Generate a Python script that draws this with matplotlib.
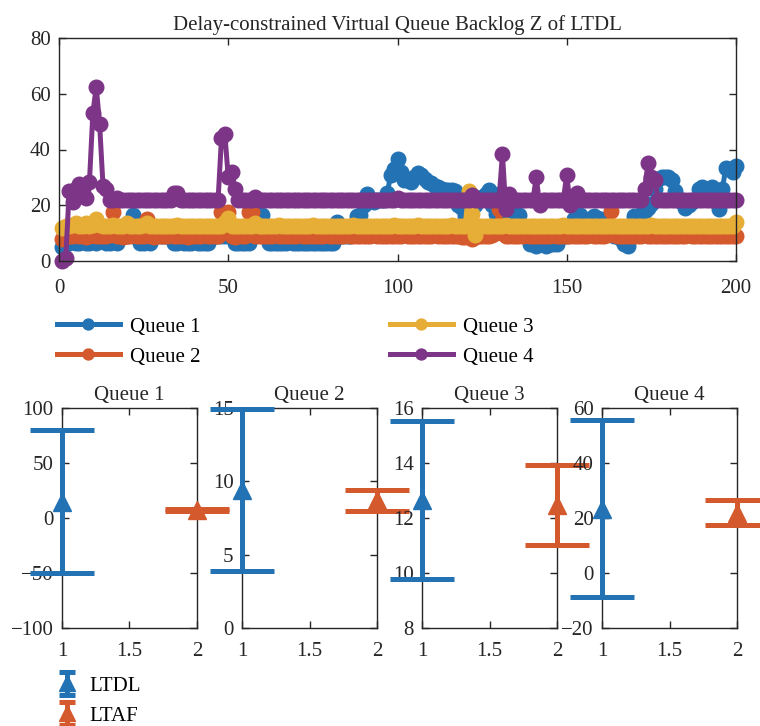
import numpy as np
import matplotlib
matplotlib.use("Agg")
import matplotlib.pyplot as plt
from matplotlib.lines import Line2D
from matplotlib.legend_handler import HandlerErrorbar

plt.rcParams['font.family'] = ['Liberation Serif', 'DejaVu Serif']
plt.rcParams['axes.unicode_minus'] = True

# ---------------- data ----------------
steps = list(range(1, 201))

queue1 = [5, 6, 6.5, 7, 6.5, 6.5, 7, 6.5, 6.5, 7, 6.5, 9, 9, 6.5, 6.5, 7, 6.5, 9, 9, 9,
          12, 16.5, 9, 6.5, 6.5, 7, 6.5, 9, 9, 9, 9, 9, 9, 6.5, 6.5, 7, 6.5, 6.5, 6.5, 7,
          6.5, 6.5, 6.5, 6.5, 9, 9, 9, 9, 9, 12, 9, 6.5, 6.5, 6.5, 6.5, 6.5, 9, 12, 16, 16.5,
          9, 6.5, 6.5, 6.5, 6.5, 6.5, 6.5, 9, 6.5, 6.5, 6.5, 6.5, 6.5, 6.5, 6.5, 6.5, 6.5, 6.5, 6.5, 6.5,
          6.5, 14, 9, 9, 9, 9, 12, 16, 16.5, 20, 24, 22, 21, 22, 22, 22, 24.5, 31, 33, 36.5,
          32, 29, 29, 28.5, 30, 31.5, 31, 29.5, 28.5, 28, 27, 26.5, 26, 25.5, 25.5, 25.5, 25, 20, 19, 16,
          18, 21, 20, 22, 23, 24, 25.5, 20, 17, 24, 21, 19, 17, 17, 16.5, 16.5, 12, 9, 6, 6,
          5.5, 6, 6, 5.5, 6, 6, 6, 9, 9, 9, 12, 15, 16.5, 16.5, 15, 14, 15, 16, 15.5, 15,
          14, 12, 12, 9, 9, 8, 6, 5.5, 9, 16, 16, 17, 18, 19, 20.5, 26, 29.5, 30, 30, 30,
          29, 25, 22, 21, 19, 20, 21, 22, 26, 26.5, 26, 26, 26.5, 22, 18.5, 26, 33.5, 33, 32, 34]

queue2 = [8, 8.5, 9, 9, 9.5, 9, 9, 8.5, 9, 9.5, 9, 9, 9, 9, 9.5, 17.5, 9, 9, 8.5, 9,
          9, 9.5, 9, 9, 9, 15, 9, 8.5, 9, 9, 9, 9, 9.5, 9, 9, 9, 9, 8.5, 9, 9,
          9, 9, 9.5, 9, 9, 9, 9, 17.5, 12, 17.5, 9, 8.5, 9, 9, 9, 17.5, 17.5, 9, 9, 9,
          9, 9, 9, 9.5, 9, 9, 9, 9, 9, 9, 9.5, 9, 9, 9, 9, 9, 9, 9, 9.5, 9,
          9, 9, 9, 9, 9.5, 9, 9, 9, 9, 9, 9, 9, 9.5, 9, 9, 9, 9, 9, 9, 9,
          9, 9.5, 9, 9, 9, 9, 9, 9, 9, 9, 9.5, 9, 9, 9, 9, 9, 9, 9, 8.5, 8.5,
          8.5, 8, 8.5, 9, 9, 9, 9, 9.5, 10, 18.5, 10, 9, 9, 9, 9, 9, 9, 9.5, 9, 9,
          9, 9, 9, 9, 9, 9.5, 9, 9, 9, 9, 9, 9, 9, 9, 9, 9, 9.5, 9, 9, 9,
          9, 9.5, 18, 9.5, 9, 9, 9, 9, 9, 9, 9, 9, 9.5, 9, 9, 9, 9, 9, 9, 9,
          9, 9, 9, 9, 9, 9.5, 9, 9, 9, 9, 9, 9, 9, 9, 9, 9, 9, 9, 9, 9]

queue3 = [12, 12.5, 12.5, 13, 13.5, 12.5, 12.5, 13.5, 12.5, 13, 15, 13, 12.5, 12.5, 12.5, 13, 12.5, 12.5, 12.5, 13.5,
          12.5, 12.5, 12.5, 12.5, 13, 13.5, 12.5, 12.5, 12.5, 12.5, 12.5, 12.5, 12.5, 12.5, 13, 12.5, 12.5, 12.5, 12.5, 12.5,
          12.5, 12.5, 12.5, 12.5, 12.5, 12.5, 12.5, 12.5, 14, 15.5, 12.5, 12.5, 12.5, 12.5, 12.5, 12.5, 12.5, 13.5, 12.5, 12.5,
          12.5, 12.5, 12.5, 12.5, 13, 12.5, 12.5, 12.5, 12.5, 12.5, 12.5, 12.5, 12.5, 12.5, 13, 12.5, 12.5, 12.5, 12.5, 12.5,
          12.5, 12.5, 12.5, 12.5, 12.5, 12.5, 13, 12.5, 12.5, 12.5, 12.5, 12.5, 12.5, 12.5, 12.5, 12.5, 12.5, 12.5, 13, 12.5,
          12.5, 12.5, 12.5, 12.5, 12.5, 13, 12.5, 12.5, 12.5, 12.5, 12.5, 12.5, 12.5, 12.5, 12.5, 13, 12.5, 12.5, 12.5, 12.5,
          25, 17, 9.5, 12.5, 12.5, 12.5, 12.5, 12.5, 12.5, 12.5, 12.5, 13, 12.5, 12.5, 12.5, 12.5, 12.5, 12.5, 12.5, 12.5,
          12.5, 12.5, 12.5, 12.5, 12.5, 12.5, 12.5, 12.5, 13, 12.5, 12.5, 12.5, 12.5, 12.5, 12.5, 12.5, 12.5, 12.5, 12.5, 12.5,
          12.5, 12.5, 12.5, 12.5, 12.5, 12.5, 12.5, 12.5, 12.5, 12.5, 12.5, 12.5, 12.5, 12.5, 13, 12.5, 12.5, 12.5, 12.5, 12.5,
          12.5, 12.5, 12.5, 12.5, 12.5, 12.5, 12.5, 12.5, 12.5, 12.5, 12.5, 12.5, 12.5, 12.5, 12.5, 12.5, 12.5, 12.5, 12.5, 14]

queue4 = [0, 1, 25, 21, 26, 27.5, 26, 22.5, 28.5, 53, 62.5, 49, 27, 26, 22, 22, 22.5, 22, 22, 22,
          22, 22, 22, 22, 22, 22, 22, 22, 22, 22, 22, 22, 22, 24.5, 24.5, 22, 22, 22, 22, 22,
          22, 22, 22, 22, 22, 22, 22, 44, 45.5, 30, 32, 26, 22, 22, 22, 22, 22, 23, 22, 22,
          22, 22, 22, 22, 22, 22, 22, 22, 22, 22, 22, 22, 22, 22, 22, 22, 22, 22, 22, 22,
          22, 22, 22, 22, 22, 22, 22, 22, 22, 22, 22, 22, 22, 22, 22, 22, 22, 22, 22, 22.5,
          22, 22, 22, 22, 22, 22, 22, 22, 22, 22, 22, 22, 22, 22, 22, 22, 22, 22, 22, 22,
          22, 23.5, 22, 22, 22, 22, 22, 22, 22, 22, 38.5, 18.5, 24, 22, 22, 22, 22, 22, 22, 22,
          30, 20, 22, 22, 22, 22, 22, 22, 22, 31, 20, 22, 24.5, 22, 22, 22, 22, 22, 22, 22,
          22, 22, 22, 22, 22, 22, 22, 22, 22, 22, 22, 22, 26, 35, 30, 29, 22, 22, 22, 22,
          22, 22, 22, 22, 22, 22, 22, 22, 22, 22, 22, 22, 22, 22, 22, 22, 22, 22, 22, 22]

series_labels = ["Queue 1", "Queue 2", "Queue 3", "Queue 4"]

# error-bar summary per queue
methods = ["LTDL", "LTAF"]
method_x = [1, 2]
ltdl_mean = [15, 9.4, 12.65, 23.4]
ltdl_err = [65, 5.5, 2.87, 32.2]
ltaf_mean = [7.5, 8.7, 12.48, 22]
ltaf_err = [0.8, 0.7, 1.45, 4.5]
sub_ylims = [(-100, 100), (0, 15), (8, 16), (-20, 60)]
sub_yticks = [[-100, -50, 0, 50, 100], [0, 5, 10, 15], [8, 10, 12, 14, 16], [-20, 0, 20, 40, 60]]

colors = ['#2372B4', '#D4592C', '#E6AD37', '#7D3587']
ink = '#262626'
FS = 15

# ---------------- figure ----------------
W, H = 760, 726
fig = plt.figure(figsize=(W / 100, H / 100), dpi=100)


def style(ax, xpad):
    for s in ax.spines.values():
        s.set_color(ink)
        s.set_linewidth(1.0)
    ax.tick_params(direction='in', top=True, right=True, length=5, width=1,
                   color=ink, labelcolor=ink, labelsize=FS, pad=6)
    ax.tick_params(axis='x', pad=xpad)


ax = fig.add_axes([59 / W, 1 - 261 / H, (736 - 59) / W, (261 - 38) / H])
handles = []
for vals, c, lab in zip([queue1, queue2, queue3, queue4], colors, series_labels):
    h, = ax.plot(steps, vals, '-o', color=c, lw=3.6, ms=10.5, label=lab, clip_on=False)
    handles.append(h)
ax.set_xlim(0, 200)
ax.set_ylim(0, 80)
ax.set_xticks([0, 50, 100, 150, 200])
ax.set_yticks([0, 20, 40, 60, 80])
style(ax, 13)
ax.set_title("Delay-constrained Virtual Queue Backlog Z of LTDL", fontsize=FS, color=ink, pad=6)

leg_kw = dict(frameon=False, fontsize=FS, loc='upper left', borderpad=0, borderaxespad=0,
              handlelength=3.0, handletextpad=0.5, labelspacing=0.5, markerscale=0.75)
fig.legend(handles[:2], series_labels[:2], bbox_to_anchor=(57 / W, 1 - 317 / H), **leg_kw)
fig.legend(handles[2:], series_labels[2:], bbox_to_anchor=(390 / W, 1 - 317 / H), **leg_kw)

# ---------------- bottom error-bar panels ----------------
lefts = [62, 242, 422, 602]
eb_handles = None
for i in range(4):
    a = fig.add_axes([lefts[i] / W, 1 - 628 / H, 135 / W, (628 - 408) / H])
    e1 = a.errorbar([method_x[0]], [ltdl_mean[i]], yerr=[ltdl_err[i]], fmt='^', color=colors[0],
                    ms=13, elinewidth=3.6, capsize=23, capthick=3.6, clip_on=False, zorder=3)
    e2 = a.errorbar([method_x[1]], [ltaf_mean[i]], yerr=[ltaf_err[i]], fmt='^', color=colors[1],
                    ms=13, elinewidth=3.6, capsize=23, capthick=3.6, clip_on=False, zorder=3)
    for cont in (e1, e2):
        for art in cont.get_children():
            art.set_clip_on(False)
            art.set_zorder(3)
    a.set_xlim(1, 2)
    a.set_xticks([1, 1.5, 2])
    a.set_xticklabels(['1', '1.5', '2'])
    a.set_ylim(*sub_ylims[i])
    a.set_yticks(sub_yticks[i])
    style(a, 10)
    a.set_title(series_labels[i], fontsize=FS, color=ink, pad=6)
    if i == 0:
        eb_handles = [e1, e2]


def upd(h, o):
    h.update_from(o)
    if isinstance(h, Line2D) and o.get_marker() == '_':
        h.set_markersize(11)
        h.set_markeredgewidth(3.6)


hm = {eb_handles[0]: HandlerErrorbar(yerr_size=0.55, update_func=upd),
      eb_handles[1]: HandlerErrorbar(yerr_size=0.55, update_func=upd)}
fig.legend(eb_handles, methods, handler_map=hm, frameon=False, fontsize=FS, loc='upper left',
           bbox_to_anchor=(57 / W, 1 - 676 / H), borderpad=0, borderaxespad=0,
           handlelength=1.0, handletextpad=0.55, labelspacing=0.5, markerscale=0.85)

fig.savefig("out.png", dpi=100)
